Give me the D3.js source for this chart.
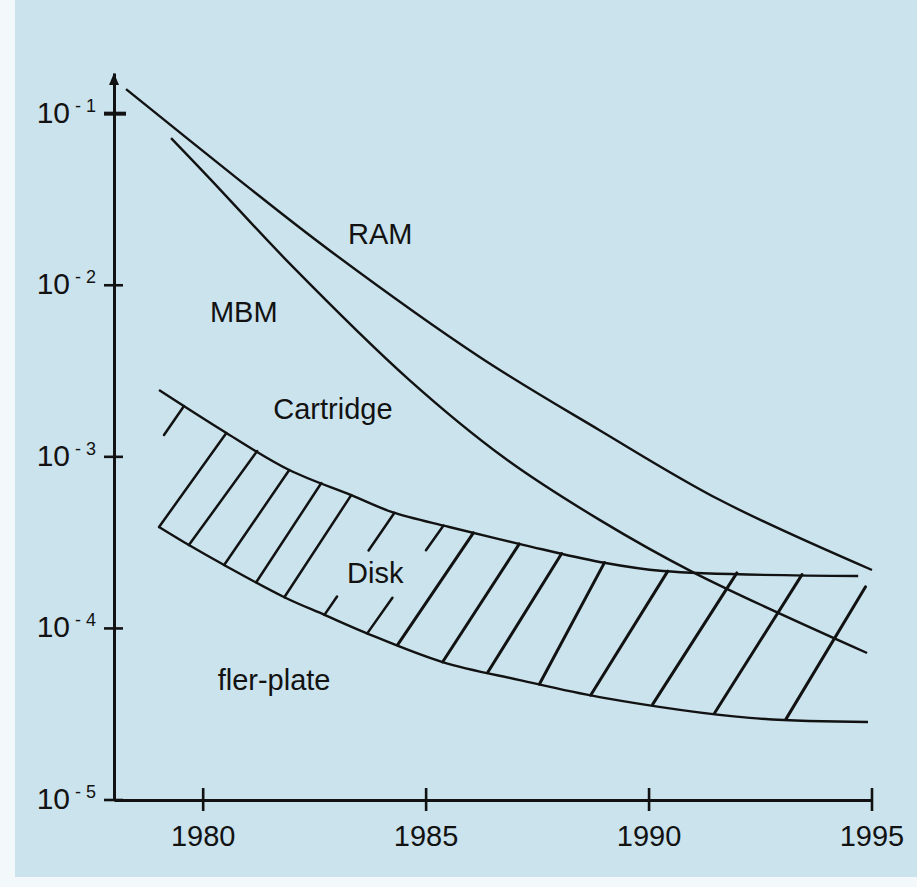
<!DOCTYPE html>
<html><head><meta charset="utf-8">
<script src="https://cdn.jsdelivr.net/npm/d3@7"></script>
<style>html,body{margin:0;padding:0;background:#fff;} svg{display:block;}</style>
</head><body>
<script>
// ---------- data ----------
const yearTicks = [1980, 1985, 1990, 1995];
const valueTicks = [1e-1, 1e-2, 1e-3, 1e-4, 1e-5];
const valueTickExp = ["-1", "-2", "-3", "-4", "-5"];

const ramYears  = [1978.27, 1980.81, 1982.83, 1986.20, 1988.89, 1991.59, 1995.00];
const ramValues = [1.39e-1, 4.10e-2, 1.60e-2, 3.82e-3, 1.43e-3, 5.6e-4, 2.19e-4];

const mbmYears  = [1979.28, 1980.18, 1981.93, 1984.62, 1986.76, 1988.89, 1990.98, 1994.89];
const mbmValues = [7.21e-2, 4.10e-2, 1.346e-2, 2.81e-3, 9.84e-4, 4.29e-4, 2.13e-4, 7.19e-5];

const cartYears  = [1979.01, 1980.52, 1981.93, 1983.32, 1984.24, 1985.52, 1987.20, 1988.89, 1990.31, 1994.69];
const cartValues = [2.45e-3, 1.377e-3, 8.38e-4, 5.98e-4, 4.76e-4, 3.90e-4, 3.06e-4, 2.44e-4, 2.16e-4, 2.02e-4];

const plateYears  = [1979.01, 1979.68, 1980.47, 1981.82, 1982.72, 1983.66, 1985.37, 1987.10, 1988.89, 1992.26, 1994.91];
const plateValues = [3.90e-4, 3.06e-4, 2.34e-4, 1.52e-4, 1.20e-4, 9.40e-5, 6.37e-5, 5.0e-5, 3.98e-5, 3.01e-5, 2.85e-5];

// hatch lines of the Disk band: year on lower curve -> year on upper curve, visible parts
const hatchBottom = [1977.70, 1979.01, 1979.68, 1980.47, 1981.19, 1981.82, 1982.72, 1983.68, 1984.36, 1985.37, 1986.38, 1987.54, 1988.69, 1990.08, 1991.47, 1993.07];
const hatchTop    = [1979.57, 1980.52, 1981.21, 1981.93, 1982.65, 1983.32, 1984.29, 1985.39, 1986.06, 1987.09, 1988.04, 1989.00, 1990.42, 1991.97, 1993.43, 1995.00];
const hatchParts  = [[[0.76,1]], [[0,1]], [[0,1]], [[0,1]], [[0,1]], [[0,1]], [[0,0.18],[0.63,1]], [[0,0.33],[0.77,1]],
                     [[0,1]], [[0,1]], [[0,1]], [[0,1]], [[0,1]], [[0,1]], [[0,1]], [[0,0.925]]];

const labelText   = ["RAM", "MBM", "Cartridge", "Disk", "fler-plate"];
const labelYears  = [1983.97, 1980.91, 1982.91, 1983.86, 1981.59];
const labelValues = [1.74e-2, 6.11e-3, 1.66e-3, 1.84e-4, 4.38e-5];

// ---------- layout ----------
const W = 917, H = 887;
const svg = d3.select("body").append("svg").attr("width", W).attr("height", H);
svg.append("rect").attr("x", 0).attr("y", 0).attr("width", W).attr("height", H).attr("fill", "#f3f8fa");
svg.append("rect").attr("x", 15).attr("y", 0).attr("width", W - 15).attr("height", 877).attr("fill", "#cae3ed");

const x = d3.scaleLinear().domain([1978, 1995]).range([114, 872]);
const y = d3.scaleLog().domain([1e-5, 0.1726]).range([800, 73]);

const ink = "#121212";
const font = "'Liberation Sans', Arial, Helvetica, sans-serif";

function interp(xs, vs, t) {
  if (t <= xs[0]) return vs[0];
  if (t >= xs[xs.length - 1]) return vs[vs.length - 1];
  let i = 1; while (xs[i] < t) i++;
  const f = (t - xs[i-1]) / (xs[i] - xs[i-1]);
  return Math.pow(10, Math.log10(vs[i-1]) + f * (Math.log10(vs[i]) - Math.log10(vs[i-1])));
}

const line = d3.line().x(d => x(d[0])).y(d => y(d[1])).curve(d3.curveCatmullRom.alpha(0.5));
const series = [[ramYears, ramValues], [mbmYears, mbmValues], [cartYears, cartValues], [plateYears, plateValues]];
series.forEach(([ys, vs]) => {
  svg.append("path").datum(ys.map((yy, i) => [yy, vs[i]]))
    .attr("d", line).attr("fill", "none").attr("stroke", ink).attr("stroke-width", 2.4);
});

// hatch
hatchBottom.forEach((b, i) => {
  const t = hatchTop[i];
  const x0 = x(b), y0 = y(interp(plateYears, plateValues, b));
  const x1 = x(t), y1 = y(interp(cartYears, cartValues, t));
  hatchParts[i].forEach(([a, c]) => {
    svg.append("line")
      .attr("x1", x0 + (x1 - x0) * a).attr("y1", y0 + (y1 - y0) * a)
      .attr("x2", x0 + (x1 - x0) * c).attr("y2", y0 + (y1 - y0) * c)
      .attr("stroke", ink).attr("stroke-width", i >= 8 ? 3 : 2.5).attr("stroke-linecap", "round");
  });
});

// axes
const yAxis = svg.append("g").attr("transform", `translate(${x(1978)},0)`)
  .call(d3.axisLeft(y).tickValues(valueTicks).tickSize(0).tickFormat(""));
yAxis.select(".domain").attr("stroke", ink).attr("stroke-width", 3);
const xAxis = svg.append("g").attr("transform", `translate(0,${y(1e-5)})`)
  .call(d3.axisBottom(x).tickValues(yearTicks).tickSize(0).tickFormat(""));
xAxis.select(".domain").attr("stroke", ink).attr("stroke-width", 3);

// arrow
const ax = x(1978), ay = y(0.1726);
svg.append("path").attr("d", `M${ax},${ay} L${ax-5},${ay+12} L${ax+5},${ay+12} Z`).attr("fill", ink);

// y ticks (crossing)
valueTicks.forEach((v, i) => {
  svg.append("line").attr("x1", ax - 10).attr("x2", ax + (i === 0 ? 12 : 9))
    .attr("y1", y(v)).attr("y2", y(v)).attr("stroke", ink).attr("stroke-width", i === 0 ? 4 : 2.6);
  const base = y(v) + 9;
  svg.append("text").attr("x", 70).attr("y", base).attr("text-anchor", "end")
    .attr("font-family", font).attr("font-size", 30).attr("fill", ink).text("10");
  svg.append("text").attr("x", 75).attr("y", base - 11)
    .attr("font-family", font).attr("font-size", 18).attr("fill", ink)
    .attr("xml:space", "preserve").text(valueTickExp[i].replace("-", "- "));
});

// x ticks
yearTicks.forEach(t => {
  svg.append("line").attr("x1", x(t)).attr("x2", x(t)).attr("y1", y(1e-5) - 12).attr("y2", y(1e-5) + 11)
    .attr("stroke", ink).attr("stroke-width", 2.6);
  svg.append("text").attr("x", x(t)).attr("y", y(1e-5) + 46).attr("text-anchor", "middle")
    .attr("font-family", font).attr("font-size", 29).attr("fill", ink).text(String(t));
});

// labels
labelText.forEach((s, i) => {
  svg.append("text").attr("x", x(labelYears[i])).attr("y", y(labelValues[i])).attr("text-anchor", "middle")
    .attr("font-family", font).attr("font-size", 29).attr("fill", ink).text(s);
});
</script>
</body></html>
